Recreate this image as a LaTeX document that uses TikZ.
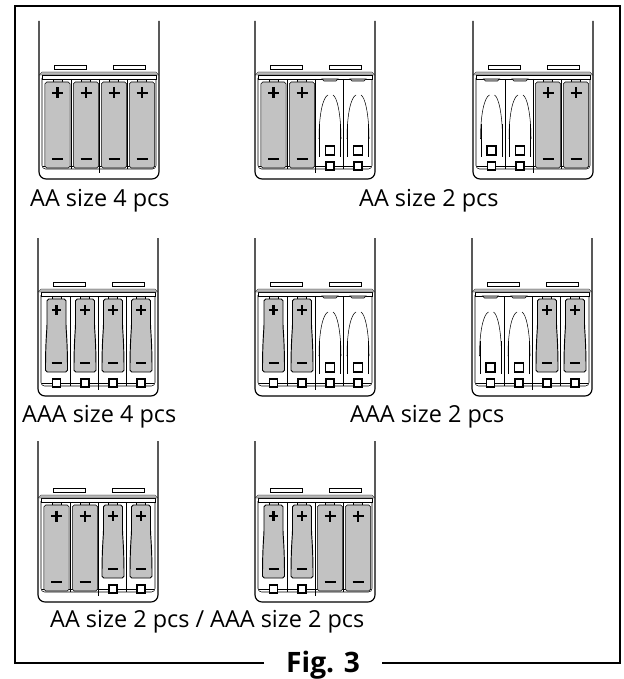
\documentclass[tikz,border=0pt]{standalone}
\usepackage{fontspec}
\setmainfont{Open Sans}
\definecolor{cellgray}{gray}{0.76}
\definecolor{bargray}{gray}{0.72}
\tikzstyle{frameline} = [line width=2.3pt, black]
\tikzstyle{trayline} = [line width=1pt, black]
\tikzstyle{thinline} = [line width=0.45pt, black]
\tikzstyle{signline} = [line width=2.5pt, black]
\tikzstyle{square} = [line width=0.9pt, black, fill=white]
\tikzstyle{caption} = [font=\fontsize{20}{22}\selectfont, inner sep=0pt, anchor=base west]

% tray: left x, bottom y, top y
\newcommand{\tray}[3]{
  \begin{scope}[shift={(#1,#2)}]
    \draw [trayline, rounded corners=6] (0,#3-#2) -- (0,0) -- (120,0) -- (120,#3-#2);
    \draw [thinline, rounded corners=3] (3,-101) -- (3,-10) -- (117,-10) -- (117,-101);
    \draw [thinline] (4,-13) -- (116,-13);
    \draw [thinline, fill=white] (15,-114) rectangle (47,-110);
    \draw [thinline, fill=white] (74,-114) rectangle (106,-110);
    \draw [thinline, fill=white] (3,-104) rectangle (117,-100);
    \draw [line width=0.2pt, fill=bargray] (3,-107) -- (117,-107) -- (120,-104) -- (0,-104) -- cycle;
    \draw [thinline] (32.5,-100) -- (32.5,-10);
    \draw [line width=0.8pt] (60.5,-100) -- (60.5,-6);
    \draw [thinline] (88.5,-100) -- (88.5,-10);
  \end{scope}
}
% cells: tray left x, bottom y, centre offset in the tray
\newcommand{\aacell}[3]{
  \begin{scope}[shift={(#1+#3,#2)}]
    \draw [thinline, fill=bargray!50] (-4.5,-100) rectangle (4.5,-97);
    \draw [thinline, fill=cellgray, rounded corners=1.5] (-12.6,-97) rectangle (12.6,-11);
    \draw [signline] (-5.5,-86) -- (5.5,-86) (0,-91.5) -- (0,-80.5);
    \draw [signline] (-5.5,-20) -- (5.5,-20);
  \end{scope}
}
\newcommand{\aaacell}[3]{
  \begin{scope}[shift={(#1+#3,#2)}]
    \draw [thinline, fill=bargray!50] (-4.5,-100) rectangle (4.5,-97);
    \draw [line width=0.8pt, fill=cellgray, rounded corners=1.5] (-9.5,-97) -- (9.5,-97) -- (9.5,-70) .. controls (10.5,-55) and (11,-45) .. (11,-24) -- (-11,-24) .. controls (-11,-45) and (-10.5,-55) .. (-9.5,-70) -- cycle;
    \draw [signline] (-4.7,-86) -- (4.7,-86) (0,-90.7) -- (0,-81.3);
    \draw [signline] (-5,-33) -- (5,-33);
    \draw [square] (-4,-9) rectangle (4,-17);
  \end{scope}
}
\newcommand{\emptycell}[3]{
  \begin{scope}[shift={(#1+#3,#2)}]
    \draw [thinline, fill=bargray!70] (-8,-100) -- (8,-100) -- (6,-98) -- (-6,-98) -- cycle;
    \draw [thinline] (-11,-40) .. controls (-11,-65) and (-7,-82) .. (-2,-84);
    \draw [thinline] (11,-40) .. controls (11,-65) and (7,-82) .. (3,-84);
    \draw [thinline] (-10.5,-55) -- (-10.5,-22);
    \draw [thinline] (10.5,-55) -- (10.5,-22);
    \draw [square] (-4.5,-24) rectangle (4.5,-33);
    \draw [square] (-4,-9) rectangle (4,-17);
  \end{scope}
}

\begin{document}
\begin{tikzpicture}[x=0.03cm, y=-0.03cm]
  \useasboundingbox (0,0) rectangle (624,679);

  \coordinate (gapleft) at (264,663);
  \coordinate (gapright) at (382,663);
  \draw [frameline] (gapleft) -- (15,663) -- (15,6) -- (620,6) -- (620,663) -- (gapright);

  % first row
  \tray{39}{179}{21}
  \foreach \c in {18.5,47,75,103} {\aacell{39}{179}{\c}}
  \tray{255}{179}{21}
  \foreach \c in {18.5,47} {\aacell{255}{179}{\c}}
  \foreach \c in {75,103} {\emptycell{255}{179}{\c}}
  \tray{473}{179}{21}
  \foreach \c in {18.5,47} {\emptycell{473}{179}{\c}}
  \foreach \c in {75,103} {\aacell{473}{179}{\c}}
  \node (aa-four) [caption] at (30,207) {AA size 4 pcs};
  \node (aa-two) [caption] at (359,207) {AA size 2 pcs};

  % second row
  \tray{38}{396}{238}
  \foreach \c in {18.5,47,75,103} {\aaacell{38}{396}{\c}}
  \tray{255}{396}{238}
  \foreach \c in {18.5,47} {\aaacell{255}{396}{\c}}
  \foreach \c in {75,103} {\emptycell{255}{396}{\c}}
  \tray{472}{396}{238}
  \foreach \c in {18.5,47} {\emptycell{472}{396}{\c}}
  \foreach \c in {75,103} {\aaacell{472}{396}{\c}}
  \node (aaa-four) [caption] at (22,422) {AAA size 4 pcs};
  \node (aaa-two) [caption] at (350,422) {AAA size 2 pcs};

  % third row
  \tray{38}{602}{441}
  \foreach \c in {18.5,47} {\aacell{38}{602}{\c}}
  \foreach \c in {75,103} {\aaacell{38}{602}{\c}}
  \tray{255}{602}{441}
  \foreach \c in {18.5,47} {\aaacell{255}{602}{\c}}
  \foreach \c in {75,103} {\aacell{255}{602}{\c}}
  \node (mixed) [caption] at (50,627) {AA size 2 pcs / AAA size 2 pcs};

  \node (fig-label) [caption, font=\fontsize{24}{26}\selectfont\bfseries] at (286,672) {Fig. 3};
\end{tikzpicture}
\end{document}
